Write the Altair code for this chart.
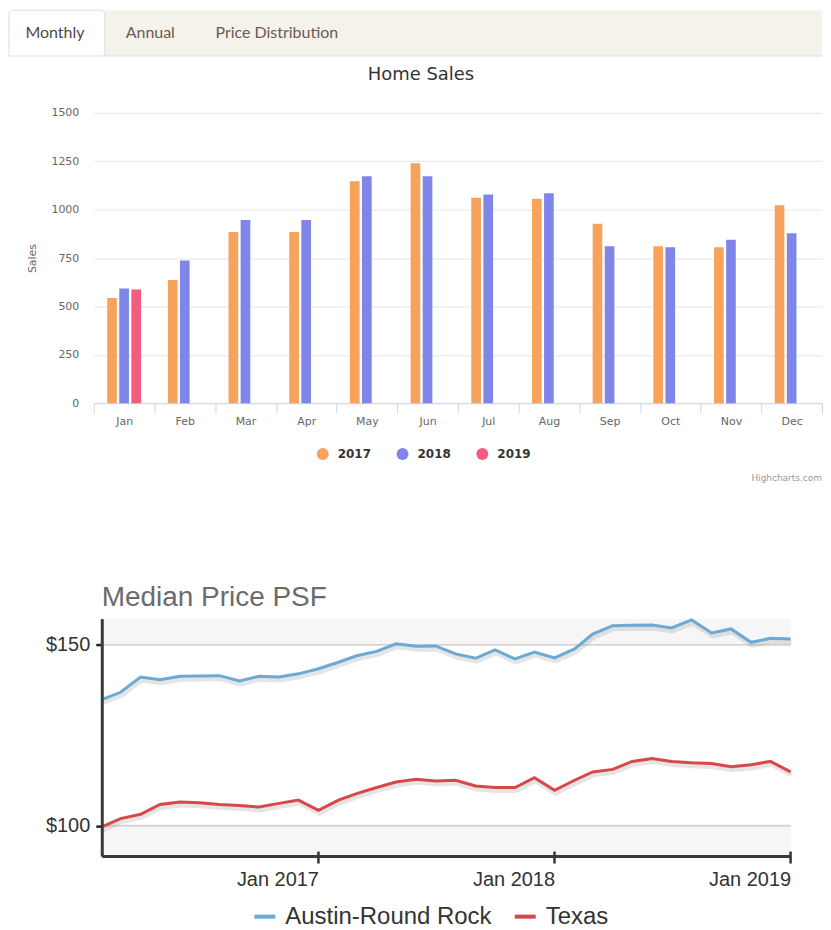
import altair as alt
import pandas as pd

# ---------------- data ----------------
months = ["Jan", "Feb", "Mar", "Apr", "May", "Jun", "Jul", "Aug", "Sep", "Oct", "Nov", "Dec"]
years = ["2017", "2018", "2019"]
sales_2017 = [543, 637, 884, 884, 1147, 1240, 1061, 1056, 927, 811, 806, 1023]
sales_2018 = [592, 737, 946, 946, 1173, 1173, 1078, 1085, 811, 806, 844, 878]
sales_2019 = [587]
year_colors = ["#f7a35c", "#8085e9", "#f15c80"]
sales_ticks = [0, 250, 500, 750, 1000, 1250, 1500]

tab_labels = ["Monthly", "Annual", "Price Distribution"]

price_dates = [d.strftime("%Y-%m-%dT00:00:00") for d in pd.date_range("2016-02-01", periods=36, freq="MS")]
austin = [134.9, 136.9, 141.1, 140.4, 141.3, 141.4, 141.5, 140.0, 141.3, 141.1, 142.0, 143.4,
          145.2, 147.0, 148.2, 150.3, 149.6, 149.7, 147.5, 146.3, 148.6, 146.1, 148.0, 146.4,
          148.9, 153.0, 155.3, 155.4, 155.5, 154.7, 156.9, 153.3, 154.4, 150.7, 151.8, 151.6]
texas = [99.7, 102.0, 103.2, 105.9, 106.6, 106.4, 105.9, 105.6, 105.2, 106.2, 107.1, 104.3,
         107.1, 108.9, 110.6, 112.1, 112.9, 112.4, 112.6, 111.0, 110.6, 110.6, 113.3, 109.8,
         112.6, 114.9, 115.6, 117.8, 118.6, 117.8, 117.4, 117.2, 116.3, 116.9, 117.8, 114.9]
series_names = ["Austin-Round Rock", "Texas"]
series_colors = ["#6aaad4", "#d9474b"]
price_ticks = [100, 150]
year_tick_dates = ["2017-01-01T00:00:00", "2018-01-01T00:00:00", "2019-01-01T00:00:00"]

# ---------------- tables ----------------
rows = []
for yr, vals in zip(years, [sales_2017, sales_2018, sales_2019]):
    for m, v in zip(months, vals):
        rows.append({"Month": m, "Year": yr, "Sales": v})
bar_df = pd.DataFrame(rows)

price_rows = []
for name, vals in zip(series_names, [austin, texas]):
    for d, v in zip(price_dates, vals):
        price_rows.append({"Date": d, "Series": name, "Price": v})
price_df = pd.DataFrame(price_rows)

HF = "DejaVu Sans"
W1 = 730

# ---------------- top: tabs + Highcharts-like bars ----------------
one = pd.DataFrame({"k": [0]})

tab_active = alt.Chart(one).mark_rect(
    fill="white", stroke="#dddddd", strokeWidth=1, cornerRadiusTopLeft=4, cornerRadiusTopRight=4
).encode(x=alt.value(-85), x2=alt.value(11), y=alt.value(-103), y2=alt.value(-57))
tab_bar = alt.Chart(one).mark_rect(fill="#f5f2eb").encode(
    x=alt.value(11), x2=alt.value(W1), y=alt.value(-103), y2=alt.value(-57))
tab_line = alt.Chart(one).mark_rule(color="#e2ddd4", strokeWidth=1).encode(
    x=alt.value(11), x2=alt.value(W1), y=alt.value(-57))

def tab_text(label, xpos, color):
    return alt.Chart(pd.DataFrame({"t": [label]})).mark_text(
        align="left", baseline="middle", font="Lato", fontSize=16, color=color
    ).encode(text="t:N", x=alt.value(xpos), y=alt.value(-80))

tabs = [tab_text(tab_labels[0], -68.5, "#4a4a4a"),
        tab_text(tab_labels[1], 32, "#6b5a4e"),
        tab_text(tab_labels[2], 122, "#6b5a4e")]

bars = alt.Chart(bar_df).mark_bar().encode(
    x=alt.X("Month:N", sort=months, title=None,
            scale=alt.Scale(paddingInner=0, paddingOuter=0),
            axis=alt.Axis(tickBand="extent", labelAngle=0, grid=False, domainColor="#ccd6eb",
                          tickColor="#ccd6eb", tickSize=10, labelFontSize=11, labelColor="#666666",
                          labelFont=HF, labelPadding=2)),
    xOffset=alt.XOffset("Year:N", sort=years,
                        scale=alt.Scale(domain=years, range=[12.2, 48.6],
                                        paddingInner=0.2, paddingOuter=0.1)),
    y=alt.Y("Sales:Q", title=None, scale=alt.Scale(domain=[0, 1500], nice=False),
            axis=alt.Axis(values=sales_ticks, format="d", grid=True, gridColor="#e6e6e6", domain=False,
                          ticks=False, labelPadding=15, labelFontSize=11, labelColor="#666666",
                          labelFont=HF)),
    color=alt.Color("Year:N", scale=alt.Scale(domain=years, range=year_colors),
                    legend=alt.Legend(orient="none", legendX=223.5, legendY=336, direction="horizontal",
                                      title=None, symbolType="circle", symbolSize=144,
                                      symbolStrokeWidth=0, labelFontSize=12, labelFontWeight="bold",
                                      labelFont=HF, labelColor="#333333", labelOffset=9,
                                      columnPadding=25, padding=0)),
)

home_title = alt.Chart(pd.DataFrame({"t": ["Home Sales"]})).mark_text(
    align="center", baseline="middle", font=HF, fontSize=18, color="#333333"
).encode(text="t:N", x=alt.value(328), y=alt.value(-38))
sales_title = alt.Chart(pd.DataFrame({"t": ["Sales"]})).mark_text(
    align="center", baseline="middle", font=HF, fontSize=11, color="#666666", angle=270
).encode(text="t:N", x=alt.value(-60.5), y=alt.value(146))
credits = alt.Chart(pd.DataFrame({"t": ["Highcharts.com"]})).mark_text(
    align="right", baseline="middle", font=HF, fontSize=9, color="#999999"
).encode(text="t:N", x=alt.value(W1), y=alt.value(366))

top = alt.layer(tab_bar, tab_active, tab_line, *tabs, bars, home_title, sales_title, credits).properties(
    width=W1, height=291)

# ---------------- bottom: Median Price PSF ----------------
LF = "Liberation Sans"
x_dom = [alt.DateTime(year=2016, month=2, date=1), alt.DateTime(year=2019, month=1, date=1)]
y_dom = [91.65, 157.25]

x_scale = alt.Scale(domain=x_dom, range=[8, 698.5], nice=False)
y_scale = alt.Scale(domain=y_dom, nice=False, zero=False)

bands_df = pd.DataFrame({"start": [price_dates[0]] * 2, "end": [price_dates[-1]] * 2,
                         "lo": [price_ticks[1], y_dom[0]], "hi": [y_dom[1], price_ticks[0]]})
bands = alt.Chart(bands_df).mark_rect(color="#f6f6f6").encode(
    x=alt.X("start:T", scale=x_scale, title=None), x2="end:T",
    y=alt.Y("lo:Q", scale=y_scale, title=None), y2="hi:Q")

grid_df = pd.DataFrame({"start": [price_dates[0]] * 2, "end": [price_dates[-1]] * 2, "level": price_ticks})
grid = alt.Chart(grid_df).mark_rule(color="#d4d4d4", strokeWidth=2).encode(
    x=alt.X("start:T", scale=x_scale, title=None), x2="end:T",
    y=alt.Y("level:Q", scale=y_scale, title=None))

shadow = alt.Chart(price_df).mark_line(color="#888888", opacity=0.22, strokeWidth=5, xOffset=1, yOffset=3).encode(
    x=alt.X("Date:T", scale=x_scale, title=None),
    y=alt.Y("Price:Q", scale=y_scale, title=None),
    detail="Series:N")

lines = alt.Chart(price_df).mark_line(strokeWidth=3).encode(
    x=alt.X("Date:T", scale=x_scale, title=None,
            axis=alt.Axis(values=[alt.DateTime(year=2017, month=1, date=1),
                                  alt.DateTime(year=2018, month=1, date=1),
                                  alt.DateTime(year=2019, month=1, date=1)],
                          format="%b %Y", labelAlign="right", labelFontSize=20, labelFont=LF,
                          labelColor="#333333", ticks=False, labelPadding=14, grid=False,
                          domainColor="#3a3a3a", domainWidth=3, labelFlush=False, labelOverlap=False,
                          zindex=1)),
    y=alt.Y("Price:Q", scale=y_scale, title=None,
            axis=alt.Axis(values=price_ticks, format="$.0f", offset=-8, grid=False,
                          domainColor="#3a3a3a", domainWidth=3, tickColor="#222222", tickSize=6,
                          tickWidth=2.5, labelFontSize=20, labelFont=LF, labelColor="#333333",
                          labelPadding=6, zindex=1)),
    color=alt.Color("Series:N", scale=alt.Scale(domain=series_names, range=series_colors),
                    legend=alt.Legend(orient="none", legendX=159, legendY=286, direction="horizontal",
                                      title=None, symbolType="stroke", symbolSize=441,
                                      symbolStrokeWidth=4, labelFontSize=24, labelFont=LF,
                                      labelColor="#333333", labelOffset=8, columnPadding=15,
                                      labelLimit=500, padding=0)),
)

ticks_df = pd.DataFrame({"Date": year_tick_dates})
xticks = alt.Chart(ticks_df).mark_rule(color="#333333", strokeWidth=2.5).encode(
    x=alt.X("Date:T", scale=x_scale, title=None), y=alt.value(233.5), y2=alt.value(245.5))

psf_title = alt.Chart(pd.DataFrame({"t": ["Median Price PSF"]})).mark_text(
    align="left", baseline="alphabetic", font=LF, fontSize=28, color="#6b6b6b"
).encode(text="t:N", x=alt.value(8), y=alt.value(-13))

bottom = alt.layer(bands, grid, shadow, lines, xticks, psf_title).properties(width=699, height=238)

chart = alt.vconcat(top, bottom, spacing=216, bounds="flush").resolve_scale(
    color="independent", x="independent", y="independent").configure_view(
    stroke="transparent").properties(padding=0, background="white")

chart.save("out.html", embed_options={"renderer": "svg", "actions": False})
